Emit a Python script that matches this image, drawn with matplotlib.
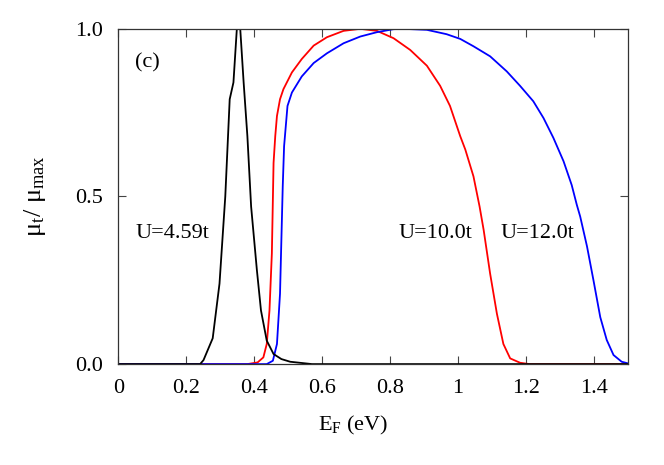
import matplotlib
matplotlib.use("Agg")
import matplotlib.pyplot as plt

plt.rcParams['font.family'] = ['Liberation Serif', 'DejaVu Serif']
plt.rcParams['mathtext.fontset'] = 'custom'
plt.rcParams['mathtext.rm'] = 'Liberation Serif'
plt.rcParams['mathtext.it'] = 'Liberation Serif:italic'

# U = 4.59t
e_black = [0.0, 0.20, 0.241, 0.251, 0.278, 0.298, 0.315, 0.328, 0.339, 0.349, 0.359,
           0.369, 0.380, 0.391, 0.408, 0.420, 0.437, 0.457, 0.480, 0.506, 0.57, 1.5]
mu_black = [0.0, 0.0, 0.0, 0.012, 0.077, 0.24, 0.50, 0.79, 0.84, 1.0, 1.0,
            0.84, 0.68, 0.47, 0.28, 0.16, 0.07, 0.03, 0.015, 0.007, 0.0, 0.0]

# U = 10.0t
e_red = [0.0, 0.38, 0.41, 0.427, 0.437, 0.445, 0.452, 0.457, 0.462, 0.467, 0.476,
         0.486, 0.511, 0.540, 0.575, 0.614, 0.663, 0.712, 0.761, 0.810, 0.859,
         0.908, 0.947, 0.976, 1.006, 1.021, 1.045, 1.063, 1.075, 1.094, 1.114,
         1.133, 1.153, 1.182, 1.21, 1.5]
mu_red = [0.0, 0.0, 0.005, 0.02, 0.06, 0.16, 0.33, 0.60, 0.68, 0.74, 0.79,
          0.82, 0.87, 0.91, 0.95, 0.975, 0.994, 1.0, 0.994, 0.972, 0.937,
          0.89, 0.83, 0.77, 0.68, 0.64, 0.56, 0.47, 0.40, 0.27, 0.15,
          0.06, 0.017, 0.004, 0.0, 0.0]

# U = 12.0t
e_blue = [0.0, 0.437, 0.455, 0.467, 0.476, 0.484, 0.488, 0.498, 0.511, 0.540, 0.575,
          0.614, 0.663, 0.712, 0.761, 0.810, 0.839, 0.908, 0.966, 1.006, 1.045,
          1.094, 1.143, 1.182, 1.221, 1.251, 1.280, 1.310, 1.334, 1.349, 1.359,
          1.379, 1.398, 1.418, 1.437, 1.457, 1.481, 1.5]
mu_blue = [0.0, 0.0, 0.01, 0.06, 0.21, 0.53, 0.65, 0.77, 0.81, 0.858, 0.898,
           0.927, 0.957, 0.977, 0.99, 0.999, 1.0, 0.997, 0.984, 0.97, 0.948,
           0.918, 0.873, 0.83, 0.784, 0.734, 0.675, 0.605, 0.534, 0.475, 0.44,
           0.351, 0.25, 0.14, 0.072, 0.027, 0.007, 0.002]

xticks = [0, 0.2, 0.4, 0.6, 0.8, 1.0, 1.2, 1.4]
xticklabels = ['0', '0.2', '0.4', '0.6', '0.8', '1', '1.2', '1.4']
yticks = [0.0, 0.5, 1.0]
yticklabels = ['0.0', '0.5', '1.0']

fig, ax = plt.subplots(figsize=(6.64, 4.65), dpi=100)
fig.subplots_adjust(left=0.178, right=0.946, top=0.938, bottom=0.217)

ax.plot(e_red, mu_red, color='red', lw=1.3)
ax.plot(e_blue, mu_blue, color='blue', lw=1.3)
ax.plot(e_black, mu_black, color='black', lw=1.3)

ax.set_xlim(0, 1.5)
ax.set_ylim(0, 1.0)
ax.set_xticks(xticks)
ax.set_xticklabels(xticklabels)
ax.set_yticks(yticks)
ax.set_yticklabels(yticklabels)
ax.tick_params(direction='in', top=True, right=True, length=6, width=0.8,
               labelsize=16, pad=11, color='#444444')
for s in ax.spines.values():
    s.set_linewidth(0.9)
    s.set_color('#333333')

ax.set_xlabel('E$_\\mathrm{F}$ (eV)', fontsize=16)
ax.xaxis.set_label_coords(0.461, -0.15)
ax.set_ylabel('μ$_\\mathrm{t}$/ μ$_\\mathrm{max}$', fontsize=19)
ax.yaxis.set_label_coords(-0.137, 0.5)

ax.text(0.033, 0.885, '(c)', transform=ax.transAxes, fontsize=16)
ax.text(0.033, 0.376, 'U=4.59t', transform=ax.transAxes, fontsize=16)
ax.text(0.549, 0.376, 'U=10.0t', transform=ax.transAxes, fontsize=16)
ax.text(0.749, 0.376, 'U=12.0t', transform=ax.transAxes, fontsize=16)

fig.savefig('out.png', dpi=100)
